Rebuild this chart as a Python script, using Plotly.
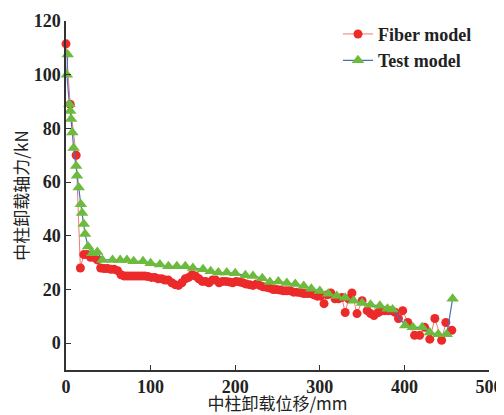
import plotly.graph_objects as go

# Fiber model (red circles)
fiber_x = [0, 5, 12, 17, 21, 25, 29, 33, 37, 41, 45, 49, 53, 57, 61, 65, 69, 73, 77, 81,
           85, 89, 93, 97, 101, 105, 109, 113, 117, 121, 125, 129, 133, 137, 141, 145, 149,
           153, 157, 161, 165, 169, 173, 177, 181, 185, 189, 193, 197, 201, 205, 209, 213,
           217, 221, 225, 229, 233, 237, 241, 245, 249, 253, 257, 261, 265, 269, 273, 277,
           281, 285, 289, 293, 297, 301, 305, 309, 313, 318, 322, 326, 330, 334, 338, 344,
           350, 356, 360, 364, 369, 373, 377, 381, 385, 389, 393, 398, 404, 412, 418, 424,
           430, 436, 444, 449, 456]
fiber_y = [111.5, 89, 70, 28, 33, 33, 32, 32, 31, 28, 27.8, 27.8, 27.5, 27.5, 27, 25.5, 25,
           25, 25, 25, 25, 25, 25, 24.8, 24.5, 24.5, 24, 24, 23.5, 23.5, 22.5, 21.8, 21.5,
           22.5, 24, 24.5, 25.5, 25, 24, 23, 23, 22.5, 23.5, 23.5, 22.5, 23, 23, 22.8, 22.5,
           23, 22.8, 22.5, 22, 21.8, 21.5, 22, 21.5, 21, 20.8, 20.5, 20, 20, 19.8, 19.5, 19.5,
           19.5, 19, 19, 18.8, 18.5, 18.5, 18.5, 18, 17.5, 17.5, 14.7, 18, 18.7, 16.5, 16.5,
           17, 11.4, 16.5, 18.7, 11, 15.8, 12.1, 11, 10.3, 11.4, 12, 12.1, 12.1, 12.1, 11.5,
           9.2, 12.1, 7.7, 2.9, 2.9, 5.9, 1.5, 9.2, 1.1, 7.7, 4.8]

# Test model (green triangles)
test_x = [2, 1, 4, 5, 6, 7.5, 9, 12, 13, 15, 17.5, 19, 21, 22.5, 26, 31, 37, 43, 55, 64, 72,
          80, 91, 100, 111, 121, 131, 141, 150, 162, 171, 180, 190, 200, 212, 221, 232, 241,
          251, 261, 271, 281, 290, 300, 310, 320, 330, 340, 350, 360, 371, 380, 386, 401, 410,
          421, 430, 440, 450, 457]
test_y = [107.5, 100, 89, 86.5, 83.5, 78.5, 72.7, 66, 62.4, 58, 51.7, 48.5, 44.4, 40.7, 36,
          33.5, 34, 31, 31, 31, 31, 30.5, 30.5, 29.8, 29.3, 28.6, 28.6, 28.6, 28, 27.5, 26.8,
          26.3, 26.3, 26, 25.3, 25, 24.2, 22.8, 23, 22.4, 22, 21.3, 20.3, 19.4, 18.4, 17.6,
          16.9, 15.8, 15, 14.3, 13.9, 12.8, 12.5, 6.6, 5.9, 5.9, 4, 3.3, 3.3, 16.5]

serif = dict(family="Liberation Serif", size=18, color="#222222", weight="bold")
cjk = dict(family="Noto Sans CJK SC", size=17, color="#222222")

fig = go.Figure()
fig.add_trace(
    go.Scatter(
        x=fiber_x,
        y=fiber_y,
        mode="lines+markers",
        name="Fiber model",
        line=dict(color="#f07a7a", width=1),
        marker=dict(symbol="circle", size=9, color="#ec2a2a"),
        cliponaxis=False,
    )
)
fig.add_trace(
    go.Scatter(
        x=test_x,
        y=test_y,
        mode="lines+markers",
        name="Test model",
        line=dict(color="#4a6fc0", width=1.2),
        marker=dict(symbol="triangle-up", size=11, color="#6cbb3c"),
        cliponaxis=False,
    )
)

axis_common = dict(
    showline=True,
    linecolor="#333333",
    linewidth=1.5,
    ticks="inside",
    ticklen=5,
    tickcolor="#333333",
    tickwidth=1.2,
    showgrid=False,
    zeroline=False,
    tickfont=serif,
    automargin=False,
)
fig.update_xaxes(
    range=[0, 500],
    tickvals=[0, 100, 200, 300, 400, 500],
    title=dict(text="中柱卸载位移/mm", font=cjk, standoff=5),
    **axis_common,
)
fig.update_yaxes(
    range=[-10, 120],
    tickvals=[0, 20, 40, 60, 80, 100, 120],
    title=dict(text="中柱卸载轴力/kN", font=cjk, standoff=2),
    **axis_common,
)

# the page body keeps its default 8px margin, so the figure is sized to fit inside it
fig.update_layout(
    width=496,
    height=407,
    margin=dict(l=58, r=15, t=8, b=45),
    paper_bgcolor="#ffffff",
    plot_bgcolor="#ffffff",
    showlegend=True,
    legend=dict(
        x=0.643,
        y=1.015,
        xanchor="left",
        yanchor="top",
        font=serif,
        bgcolor="rgba(0,0,0,0)",
        tracegroupgap=0,
        itemwidth=30,
    ),
)

fig.write_html("out.html")
